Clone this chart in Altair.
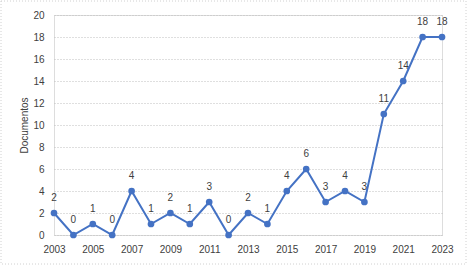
import altair as alt
import pandas as pd

years = list(range(2003, 2024))
docs = [2, 0, 1, 0, 4, 1, 2, 1, 3, 0, 2, 1, 4, 6, 3, 4, 3, 11, 14, 18, 18]
x_ticks = list(range(2003, 2024, 2))
y_ticks = list(range(0, 21, 2))

df = pd.DataFrame({"year": years, "docs": docs})

FONT = "Liberation Sans"
BLUE = "#4472C4"

base = alt.Chart(df).encode(
    x=alt.X("year:Q", scale=alt.Scale(domain=[2003, 2023], nice=False, zero=False),
            axis=alt.Axis(values=x_ticks, format="d", grid=False, domain=False, ticks=False,
                          labelPadding=9, labelFontSize=10, labelColor="#404040", title=None,
                          labelFont=FONT, labelFlush=False, labelOverlap=False)),
    y=alt.Y("docs:Q", scale=alt.Scale(domain=[0, 20], nice=False),
            axis=alt.Axis(values=y_ticks, grid=True, gridColor="#bfbfbf", gridDash=[1, 2],
                          domain=False, ticks=False, labelPadding=10, labelFontSize=10,
                          labelColor="#404040", labelFont=FONT, labelFlush=False,
                          title="Documentos", titleFontSize=10, titleFontWeight="normal",
                          titleColor="#404040", titleFont=FONT, titlePadding=3)),
)

line = base.mark_line(color=BLUE, strokeWidth=2)
pts = base.mark_circle(color=BLUE, size=45, opacity=1)
labels = base.mark_text(dy=-15, fontSize=10, color="#404040", font=FONT, baseline="middle").encode(
    text=alt.Text("docs:Q"))

border = alt.Chart(pd.DataFrame({"a": [0]})).mark_rect(
    fill=None, stroke="#d0d0d0", strokeDash=[1, 2], strokeWidth=1, clip=False
).encode(x=alt.value(-53), x2=alt.value(412), y=alt.value(-14), y2=alt.value(249))

chart = alt.layer(border, line, pts, labels).properties(
    width=388, height=220,
    autosize=alt.AutoSizeParams(type="none"),
    padding={"left": 54, "top": 15, "right": 26, "bottom": 30},
).configure_view(stroke=None).configure(background="white")

chart.save("out.html", embed_options={"renderer": "svg", "actions": False})
